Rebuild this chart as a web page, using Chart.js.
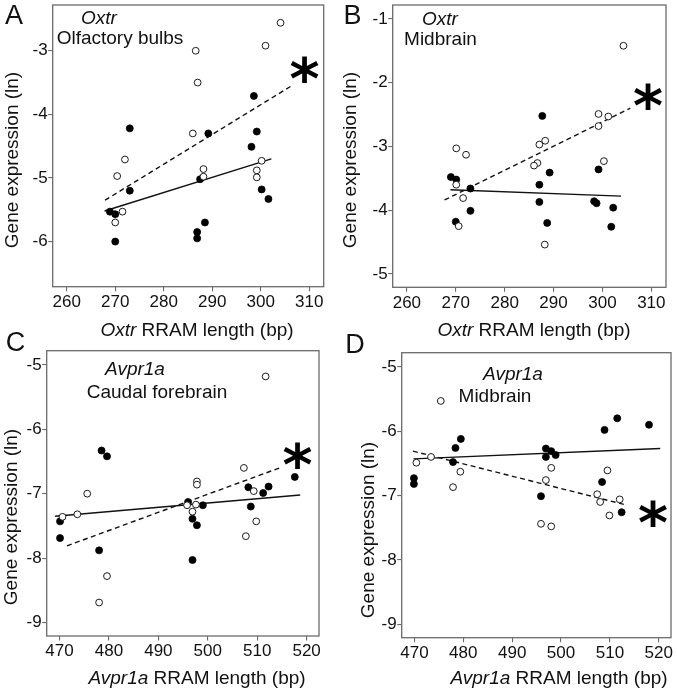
<!DOCTYPE html>
<html>
<head>
<meta charset="utf-8">
<script src="https://cdn.jsdelivr.net/npm/chart.js@4.4.1/dist/chart.umd.min.js"></script>
<style>
  html, body { margin: 0; padding: 0; background: #fff; }
  #wrap { position: relative; width: 677px; height: 693px; }
  #wrap canvas { position: absolute; left: 0; top: 0; width: 677px; height: 693px; }
</style>
</head>
<body>
<div id="wrap">
  <canvas id="cA" width="677" height="693"></canvas>
  <canvas id="cB" width="677" height="693"></canvas>
  <canvas id="cC" width="677" height="693"></canvas>
  <canvas id="cD" width="677" height="693"></canvas>
</div>
<script>
// tick labels
const xTicksOxtr = [260, 270, 280, 290, 300, 310];
const xTicksAvpr = [470, 480, 490, 500, 510, 520];
const yTicksA = [-6, -5, -4, -3];
const yTicksB = [-5, -4, -3, -2, -1];
const yTicksCD = [-9, -8, -7, -6, -5];

// Panel A - Oxtr, olfactory bulbs  [RRAM length, ln expression]
const aOpen = [[304.1, -2.56], [301.0, -2.92], [286.6, -3.0], [287.0, -3.5], [286.0, -4.3],
  [272.0, -4.71], [270.4, -4.97], [288.2, -4.86], [288.2, -4.98], [300.2, -4.73],
  [299.2, -4.88], [299.2, -4.99], [271.5, -5.53], [270.0, -5.70]];
const aFilled = [[298.6, -3.71], [273.0, -4.22], [289.2, -4.30], [299.2, -4.27], [298.1, -4.51],
  [273.0, -5.20], [287.5, -5.02], [300.2, -5.18], [301.6, -5.33], [268.9, -5.53],
  [270.0, -5.57], [288.5, -5.70], [286.9, -5.85], [286.9, -5.95], [270.0, -6.0]];
const aDashed = [[267.9, -5.35], [306.6, -3.54]];
const aSolid = [[267.8, -5.52], [302.2, -4.70]];

// Panel B - Oxtr, midbrain
const bOpen = [[304.3, -1.42], [299.2, -2.49], [301.2, -2.53], [299.2, -2.68], [288.3, -2.91],
  [287.1, -2.97], [270.1, -3.03], [272.1, -3.13], [300.3, -3.23], [286.7, -3.26],
  [286.0, -3.30], [270.1, -3.60], [271.5, -3.81], [270.6, -4.25], [288.2, -4.54]];
const bFilled = [[287.7, -2.52], [289.2, -3.41], [299.2, -3.36], [269.0, -3.48], [270.1, -3.52],
  [273.0, -3.66], [287.1, -3.60], [287.1, -3.87], [298.3, -3.86], [298.8, -3.89],
  [302.2, -3.96], [273.0, -4.01], [270.0, -4.18], [288.7, -4.20], [301.8, -4.26]];
const bDashed = [[267.7, -3.84], [305.7, -2.40]];
const bSolid = [[268.9, -3.68], [303.8, -3.78]];

// Panel C - Avpr1a, caudal forebrain
const cOpen = [[511.7, -5.18], [507.3, -6.60], [497.8, -6.81], [497.8, -6.86], [475.6, -7.0],
  [509.3, -6.96], [473.6, -7.32], [470.6, -7.36], [495.8, -7.18], [496.9, -7.28],
  [497.6, -7.17], [509.8, -7.43], [507.7, -7.66], [479.6, -8.28], [478.0, -8.69]];
const cFilled = [[478.5, -6.33], [479.6, -6.42], [517.6, -6.74], [508.2, -6.90], [512.3, -6.89],
  [511.2, -6.99], [496.0, -7.13], [499.0, -7.18], [508.7, -7.20], [470.1, -7.43],
  [496.9, -7.39], [497.8, -7.49], [470.1, -7.69], [478.0, -7.88], [496.9, -8.03]];
const cDashed = [[471.5, -7.81], [514.9, -6.59]];
const cSolid = [[469.1, -7.35], [518.7, -7.02]];

// Panel D - Avpr1a, midbrain
const dOpen = [[475.4, -5.53], [473.4, -6.40], [470.4, -6.49], [479.4, -6.63], [477.9, -6.87],
  [498.0, -6.57], [496.9, -6.76], [509.5, -6.61], [507.4, -6.98], [508.0, -7.10],
  [512.0, -7.06], [509.9, -7.31], [495.9, -7.44], [498.0, -7.48]];
const dFilled = [[511.5, -5.80], [518.0, -5.90], [508.9, -5.98], [479.5, -6.12], [478.4, -6.26],
  [496.9, -6.27], [498.0, -6.31], [498.9, -6.37], [496.9, -6.40], [477.9, -6.48],
  [469.9, -6.73], [469.9, -6.82], [508.4, -6.79], [495.9, -7.01], [512.4, -7.26]];
const dDashed = [[469.7, -6.31], [513.5, -7.15]];
const dSolid = [[469.8, -6.43], [520.3, -6.27]];

const FONT = '"Liberation Sans", Arial, Helvetica, sans-serif';
const STAR_FONT = '"DejaVu Sans", sans-serif';
const INK = '#111111';
const FRAME = '#6a6a6a';

Chart.defaults.font.family = FONT;

const toXY = pts => pts.map(p => ({ x: p[0], y: p[1] }));

// frame round the plot area
const framePlugin = {
  id: 'frame',
  afterDraw(chart) {
    const { ctx, chartArea: a } = chart;
    ctx.save();
    ctx.strokeStyle = FRAME;
    ctx.lineWidth = 1.3;
    ctx.strokeRect(a.left, a.top, a.right - a.left, a.bottom - a.top);
    ctx.restore();
  }
};

// big significance star, scaled so its ink is h px tall and centred on (cx, cy)
function drawAsterisk(ctx, cx, cy, h) {
  ctx.textAlign = 'left';
  ctx.textBaseline = 'alphabetic';
  ctx.font = 'bold 100px ' + STAR_FONT;
  let m = ctx.measureText('*');
  const size = 100 * h / (m.actualBoundingBoxAscent + m.actualBoundingBoxDescent);
  ctx.font = 'bold ' + size.toFixed(1) + 'px ' + STAR_FONT;
  m = ctx.measureText('*');
  const x = cx - (m.actualBoundingBoxRight - m.actualBoundingBoxLeft) / 2;
  const y = cy - (m.actualBoundingBoxDescent - m.actualBoundingBoxAscent) / 2;
  ctx.fillText('*', x, y);
}

// letters, gene names, region names, asterisk and axis titles
function labelsPlugin(t) {
  return {
    id: 'labels',
    afterDraw(chart) {
      const ctx = chart.ctx;
      ctx.save();
      ctx.fillStyle = INK;
      ctx.textAlign = 'center';
      ctx.textBaseline = 'middle';

      ctx.font = '27px ' + FONT;
      ctx.fillText(t.letter, t.letterPos[0], t.letterPos[1]);

      ctx.font = 'italic 19px ' + FONT;
      ctx.fillText(t.gene, t.genePos[0], t.genePos[1]);
      ctx.font = '19px ' + FONT;
      ctx.fillText(t.region, t.regionPos[0], t.regionPos[1]);

      ctx.fillStyle = '#000';
      drawAsterisk(ctx, t.starPos[0], t.starPos[1], 27);
      ctx.fillStyle = INK;

      // y title
      ctx.font = '19px ' + FONT;
      ctx.textAlign = 'center';
      ctx.textBaseline = 'middle';
      ctx.save();
      ctx.translate(t.yTitlePos[0], t.yTitlePos[1]);
      ctx.rotate(-Math.PI / 2);
      ctx.fillText('Gene expression (ln)', 0, 0);
      ctx.restore();

      // x title, gene part in italics
      const rest = ' RRAM length (bp)';
      ctx.font = 'italic 19px ' + FONT;
      const w1 = ctx.measureText(t.gene).width;
      ctx.font = '19px ' + FONT;
      const w2 = ctx.measureText(rest).width;
      const x0 = t.xTitlePos[0] - (w1 + w2) / 2;
      ctx.textAlign = 'left';
      ctx.textBaseline = 'alphabetic';
      ctx.font = 'italic 19px ' + FONT;
      ctx.fillText(t.gene, x0, t.xTitlePos[1]);
      ctx.font = '19px ' + FONT;
      ctx.fillText(rest, x0 + w1, t.xTitlePos[1]);
      ctx.restore();
    }
  };
}

const Y_AXIS_W = 40;
const X_AXIS_H = 30;

function makePanel(id, p) {
  const zeroPad = s => { s.paddingLeft = 0; s.paddingRight = 0; s.paddingTop = 0; s.paddingBottom = 0; };
  return new Chart(document.getElementById(id), {
    type: 'scatter',
    data: {
      datasets: [
        {
          data: toXY(p.open),
          pointRadius: 3.4,
          pointBackgroundColor: '#ffffff',
          pointBorderColor: '#1a1a1a',
          pointBorderWidth: 1
        },
        {
          data: toXY(p.filled),
          pointRadius: 3.5,
          pointBackgroundColor: '#000000',
          pointBorderColor: '#000000',
          pointBorderWidth: 0.8
        },
        {
          data: toXY(p.dashed),
          showLine: true,
          borderColor: INK,
          borderWidth: 1.4,
          borderDash: [5, 3.5],
          pointRadius: 0
        },
        {
          data: toXY(p.solid),
          showLine: true,
          borderColor: INK,
          borderWidth: 1.4,
          pointRadius: 0
        }
      ]
    },
    options: {
      responsive: false,
      animation: false,
      events: [],
      layout: { padding: p.pad },
      plugins: { legend: { display: false }, tooltip: { enabled: false } },
      scales: {
        x: {
          type: 'linear',
          min: p.xRange[0],
          max: p.xRange[1],
          afterBuildTicks: s => { s.ticks = p.xTicks.map(v => ({ value: v })); },
          afterFit: s => { s.height = X_AXIS_H; zeroPad(s); },
          grid: { drawOnChartArea: false, drawTicks: true, tickLength: 4.5, color: FRAME, lineWidth: 1.1 },
          border: { display: false },
          ticks: { color: INK, font: { size: 17 }, padding: 1, maxRotation: 0, autoSkip: false }
        },
        y: {
          type: 'linear',
          min: p.yRange[0],
          max: p.yRange[1],
          afterBuildTicks: s => { s.ticks = p.yTicks.map(v => ({ value: v })); },
          afterFit: s => { s.width = Y_AXIS_W; zeroPad(s); },
          grid: { drawOnChartArea: false, drawTicks: true, tickLength: 4.5, color: FRAME, lineWidth: 1.1 },
          border: { display: false },
          ticks: { color: INK, font: { size: 17 }, padding: 0.5, autoSkip: false }
        }
      }
    },
    plugins: [framePlugin, labelsPlugin(p.text)]
  });
}

makePanel('cA', {
  open: aOpen, filled: aFilled, dashed: aDashed, solid: aSolid,
  xTicks: xTicksOxtr, yTicks: yTicksA,
  xRange: [257.1, 313.0], yRange: [-6.71, -2.28],
  pad: { left: 12.7, right: 353.3, top: 3.3, bottom: 693 - 286.7 - X_AXIS_H },
  text: {
    letter: 'A', letterPos: [14, 17],
    gene: 'Oxtr', genePos: [99, 19],
    region: 'Olfactory bulbs', regionPos: [120, 39],
    starPos: [304.5, 69.5],
    yTitlePos: [13, 160], xTitlePos: [197, 336]
  }
});

makePanel('cB', {
  open: bOpen, filled: bFilled, dashed: bDashed, solid: bSolid,
  xTicks: xTicksOxtr, yTicks: yTicksB,
  xRange: [257.1, 313.0], yRange: [-5.21, -0.78],
  pad: { left: 352.7, right: 11, top: 3.3, bottom: 693 - 287.3 - X_AXIS_H },
  text: {
    letter: 'B', letterPos: [352.5, 16.5],
    gene: 'Oxtr', genePos: [440, 20],
    region: 'Midbrain', regionPos: [440.5, 40],
    starPos: [648, 96.7],
    yTitlePos: [351, 160], xTitlePos: [534, 336]
  }
});

makePanel('cC', {
  open: cOpen, filled: cFilled, dashed: cDashed, solid: cSolid,
  xTicks: xTicksAvpr, yTicks: yTicksCD,
  xRange: [467.4, 522.5], yRange: [-9.21, -4.78],
  pad: { left: 6.7, right: 358, top: 350.7, bottom: 693 - 636 - X_AXIS_H },
  text: {
    letter: 'C', letterPos: [15.5, 344],
    gene: 'Avpr1a', genePos: [135, 370],
    region: 'Caudal forebrain', regionPos: [157, 393],
    starPos: [297.5, 455],
    yTitlePos: [12, 517], xTitlePos: [197, 684]
  }
});

makePanel('cD', {
  open: dOpen, filled: dFilled, dashed: dDashed, solid: dSolid,
  xTicks: xTicksAvpr, yTicks: yTicksCD,
  xRange: [467.4, 522.5], yRange: [-9.21, -4.78],
  pad: { left: 361.7, right: 6, top: 352.7, bottom: 693 - 637.7 - X_AXIS_H },
  text: {
    letter: 'D', letterPos: [355, 345.5],
    gene: 'Avpr1a', genePos: [513, 375],
    region: 'Midbrain', regionPos: [495, 397],
    starPos: [653, 513],
    yTitlePos: [369, 530], xTitlePos: [559, 684]
  }
});
</script>
</body>
</html>
